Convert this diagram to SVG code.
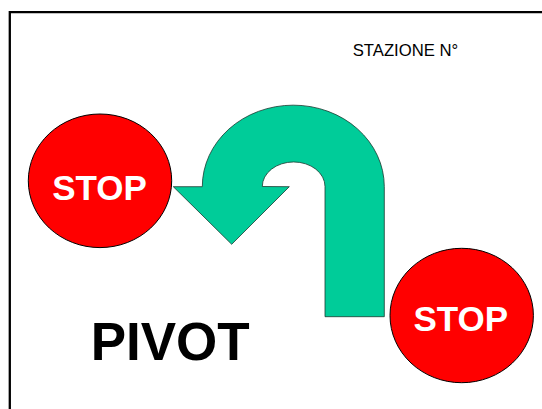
<svg xmlns="http://www.w3.org/2000/svg" width="542" height="409" viewBox="0 0 542 409">
  <style>
    .stop { fill: #FF0000; stroke: #000000; stroke-width: 1; }
    .stoptxt { font-family: "Liberation Sans", Arial, sans-serif; font-weight: bold; font-size: 35px; fill: #FFFFFF; text-anchor: middle; }
  </style>
  <rect width="542" height="409" fill="#FFFFFF"/>
  <path d="M 9.8 409 L 9.8 12.2 L 542 12.2" fill="none" stroke="#000000" stroke-width="2.3"/>
  <text x="352.7" y="55.5" font-family="Liberation Sans, Arial, sans-serif" font-size="16.5" fill="#000000" textLength="105.5" lengthAdjust="spacingAndGlyphs">STAZIONE N°</text>
  <g id="connectors">
    <path id="uturn-arrow" d="M 325 316.7 L 325 186.5 A 31.3 24.5 0 0 0 262.3 186.5 L 289.3 186.7 L 231.7 244.3 L 173.3 186.7 L 202.3 186.7 A 91 81.5 0 0 1 384.3 186.5 L 384.3 316.7 Z" fill="#00CC99" stroke="#1a3a30" stroke-width="0.8"/>
  </g>
  <g id="stop-left">
    <ellipse class="stop" cx="100" cy="180.8" rx="71.7" ry="66.8"/>
    <text class="stoptxt" x="99.5" y="200">STOP</text>
  </g>
  <g id="stop-right">
    <ellipse class="stop" cx="461.7" cy="315.5" rx="71.7" ry="67.2"/>
    <text class="stoptxt" x="460.8" y="330.7">STOP</text>
  </g>
  <g id="title">
    <text x="90.7" y="360" font-family="Liberation Sans, Arial, sans-serif" font-weight="bold" font-size="53" fill="#000000">PIVOT</text>
  </g>
</svg>
